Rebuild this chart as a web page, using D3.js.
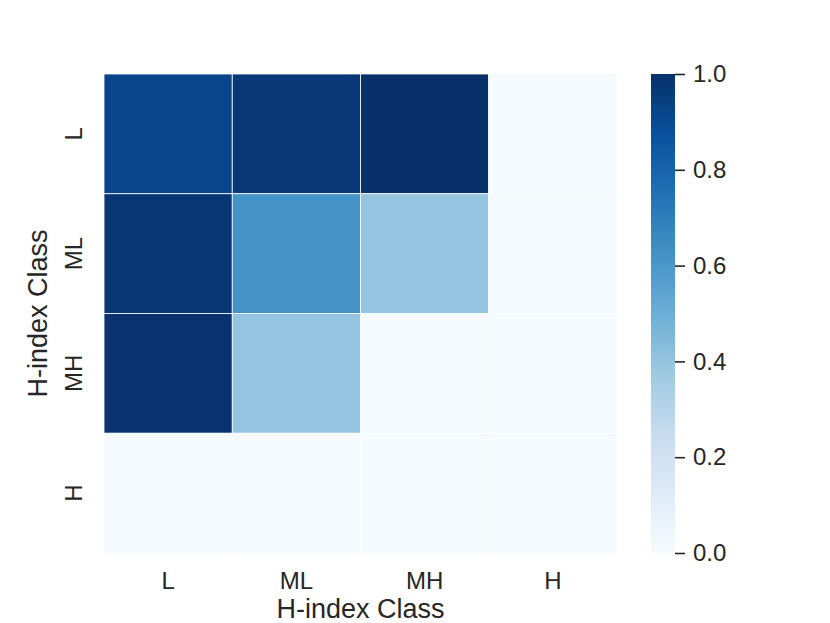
<!DOCTYPE html>
<html>
<head>
<meta charset="utf-8">
<script src="https://cdn.jsdelivr.net/npm/d3@7"></script>
<style>
  body { margin: 0; background: #fff; }
  text { font-family: "Liberation Sans", Arial, sans-serif; fill: #262626; }
</style>
</head>
<body>
<div id="chart"></div>
<script>
var rowClasses = ["L", "ML", "MH", "H"];
var colClasses = ["L", "ML", "MH", "H"];
// rows top to bottom, columns left to right
var matrix = [
    [0.92, 0.97, 1.00, 0.01],
    [0.98, 0.62, 0.40, 0.01],
    [0.99, 0.40, 0.01, 0.01],
    [0.01, 0.01, 0.01, 0.01]
];
var cbarTicks = [0, 0.2, 0.4, 0.6, 0.8, 1.0];
var bluesStops = ["#f7fbff", "#deebf7", "#c6dbef", "#9ecae1", "#6baed6",
                  "#4292c6", "#2171b5", "#08519c", "#08306b"];

var width = 830, height = 623;
var margin = {left: 104, top: 74, right: 213, bottom: 70};

var svg = d3.select("#chart").append("svg")
    .attr("width", width)
    .attr("height", height);

// matplotlib-like Blues: linear between the 9 brewer stops
var color = d3.scaleLinear()
    .domain(d3.range(bluesStops.length).map(function(i) { return i / (bluesStops.length - 1); }))
    .range(bluesStops)
    .interpolate(d3.interpolateRgb)
    .clamp(true);

var x = d3.scaleBand().domain(colClasses).range([margin.left, width - margin.right]);
var y = d3.scaleBand().domain(rowClasses).range([margin.top, height - margin.bottom]);

var cells = [];
matrix.forEach(function(row, i) {
    row.forEach(function(v, j) {
        cells.push({row: rowClasses[i], col: colClasses[j], value: v});
    });
});

svg.append("g").selectAll("rect")
    .data(cells)
    .enter().append("rect")
    .attr("x", function(d) { return x(d.col); })
    .attr("y", function(d) { return y(d.row); })
    .attr("width", x.bandwidth())
    .attr("height", y.bandwidth())
    .style("fill", function(d) { return color(d.value); })
    .style("stroke", "#fff")
    .style("stroke-width", 0.8);

// x tick labels
svg.append("g").selectAll("text")
    .data(colClasses)
    .enter().append("text")
    .attr("x", function(d) { return x(d) + x.bandwidth() / 2; })
    .attr("y", 589)
    .attr("text-anchor", "middle")
    .style("font-size", "24px")
    .text(function(d) { return d; });

// y tick labels, rotated
svg.append("g").selectAll("text")
    .data(rowClasses)
    .enter().append("text")
    .attr("transform", function(d) {
        return "translate(82," + (y(d) + y.bandwidth() / 2) + ") rotate(-90)";
    })
    .attr("text-anchor", "middle")
    .style("font-size", "24px")
    .text(function(d) { return d; });

// axis titles
svg.append("text")
    .attr("x", (margin.left + width - margin.right) / 2)
    .attr("y", 618)
    .attr("text-anchor", "middle")
    .style("font-size", "27px")
    .text("H-index Class");

svg.append("text")
    .attr("transform", "translate(47," + ((margin.top + height - margin.bottom) / 2) + ") rotate(-90)")
    .attr("text-anchor", "middle")
    .style("font-size", "27px")
    .text("H-index Class");

// colorbar
var cbX = 651, cbW = 24;
var cbScale = d3.scaleLinear().domain([0, 1]).range([height - margin.bottom, margin.top]);

var defs = svg.append("defs");
var grad = defs.append("linearGradient")
    .attr("id", "cbgrad")
    .attr("x1", "0%").attr("y1", "100%")
    .attr("x2", "0%").attr("y2", "0%");
grad.selectAll("stop")
    .data(bluesStops)
    .enter().append("stop")
    .attr("offset", function(d, i) { return (i / (bluesStops.length - 1) * 100) + "%"; })
    .attr("stop-color", function(d) { return d; });

svg.append("rect")
    .attr("x", cbX)
    .attr("y", cbScale(1))
    .attr("width", cbW)
    .attr("height", cbScale(0) - cbScale(1))
    .style("fill", "url(#cbgrad)");

var cbAxis = d3.axisRight(cbScale)
    .tickValues(cbarTicks)
    .tickFormat(d3.format(".1f"))
    .tickSize(10)
    .tickPadding(8);

var cbG = svg.append("g")
    .attr("transform", "translate(" + (cbX + cbW) + ",0)")
    .call(cbAxis);
cbG.select(".domain").remove();
cbG.selectAll(".tick line").style("stroke", "#262626").style("stroke-width", 1.6);
cbG.selectAll(".tick text")
    .style("font-size", "24px")
    .style("font-family", "'Liberation Sans', Arial, sans-serif")
    .style("fill", "#262626");
</script>
</body>
</html>
